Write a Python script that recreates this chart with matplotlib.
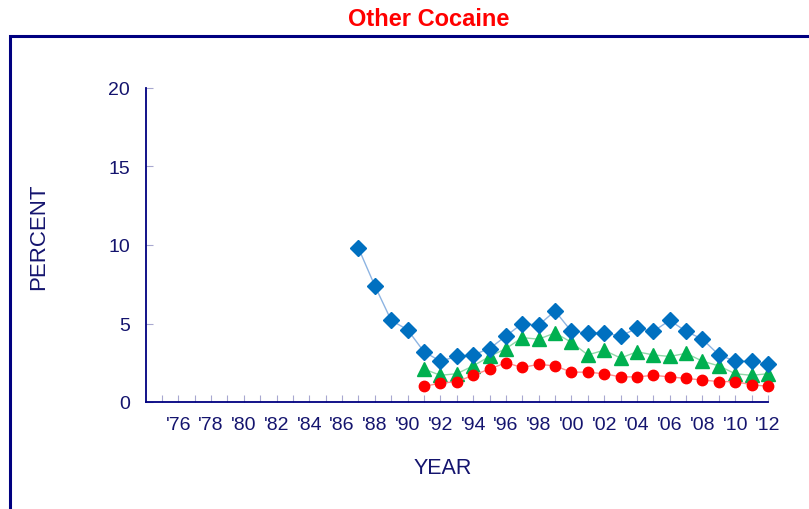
import matplotlib
matplotlib.use("Agg")
import matplotlib.pyplot as plt
from matplotlib.patches import Rectangle

plt.rcParams['font.family'] = ['Liberation Sans', 'DejaVu Sans']

# data
years_blue = list(range(1987, 2013))
blue = [9.8, 7.4, 5.2, 4.6, 3.2, 2.6, 2.9, 3.0, 3.4, 4.2, 5.0, 4.9, 5.8,
        4.5, 4.4, 4.4, 4.2, 4.7, 4.5, 5.2, 4.5, 4.0, 3.0, 2.6, 2.6, 2.4]

years_other = list(range(1991, 2013))
green = [2.1, 1.7, 1.8, 2.3, 2.9, 3.4, 4.1, 4.0, 4.4, 3.8, 3.0, 3.3, 2.8,
         3.2, 3.0, 2.9, 3.1, 2.6, 2.3, 1.8, 1.7, 1.8]
red = [1.0, 1.2, 1.3, 1.7, 2.1, 2.5, 2.2, 2.4, 2.3, 1.9, 1.9, 1.8, 1.6,
       1.6, 1.7, 1.6, 1.5, 1.4, 1.3, 1.3, 1.1, 1.0]

tick_years = list(range(1975, 2013))
tick_labels = ["'%02d" % (y % 100) if y % 2 == 0 else "" for y in tick_years]

navy = '#000080'
text_col = '#14146e'

fig = plt.figure(figsize=(8.09, 5.10), dpi=100)
W, H = 809, 510

# outer frame (runs off the right and bottom edges)
fig.patches.append(Rectangle((10 / W, -0.1), 1.2, (H - 37) / H + 0.1,
                             transform=fig.transFigure, fill=False,
                             edgecolor=navy, linewidth=2.2))

ax = fig.add_axes([145.5 / W, 1 - 403 / H, (768 - 145.5) / W, (403 - 89) / H])

ax.plot(years_blue, blue, color='#8db4e2', linewidth=1, marker='D',
        markersize=8, markerfacecolor='#0070c0', markeredgecolor='#0070c0',
        zorder=3, clip_on=False)
ax.plot(years_other, green, color='#8fd8a8', linewidth=1, marker='^',
        markersize=10, markerfacecolor='#00b050', markeredgecolor='#00b050',
        zorder=2, clip_on=False)
ax.plot(years_other, red, color='#ff8c8c', linewidth=1, marker='o',
        markersize=7.5, markerfacecolor='#ff0000', markeredgecolor='#ff0000',
        zorder=2, clip_on=False)

ax.set_xlim(1974, 2012)
ax.set_ylim(0, 20)
ax.set_xticks(tick_years)
ax.set_xticklabels(tick_labels)
ax.set_yticks([0, 5, 10, 15, 20])

for s in ['top', 'right']:
    ax.spines[s].set_visible(False)
for s in ['left', 'bottom']:
    ax.spines[s].set_color(navy)
    ax.spines[s].set_linewidth(1.3)

ax.tick_params(axis='both', direction='in', length=5, color='#a8a8d0',
               labelcolor=text_col, labelsize=14)
ax.tick_params(axis='x', pad=10)
ax.tick_params(axis='y', pad=11)

ax.set_ylabel('PERCENT', fontsize=16, color=text_col)
ax.yaxis.set_label_coords(-0.155, 0.53)
ax.set_xlabel('YEAR', fontsize=15.5, color=text_col)
ax.xaxis.set_label_coords(0.478, -0.176)

fig.text(429 / W, 1 - 19 / H, 'Other Cocaine', color='#ff0000',
         fontsize=17, fontweight='bold', ha='center', va='center')

fig.savefig('out.png', dpi=100)
